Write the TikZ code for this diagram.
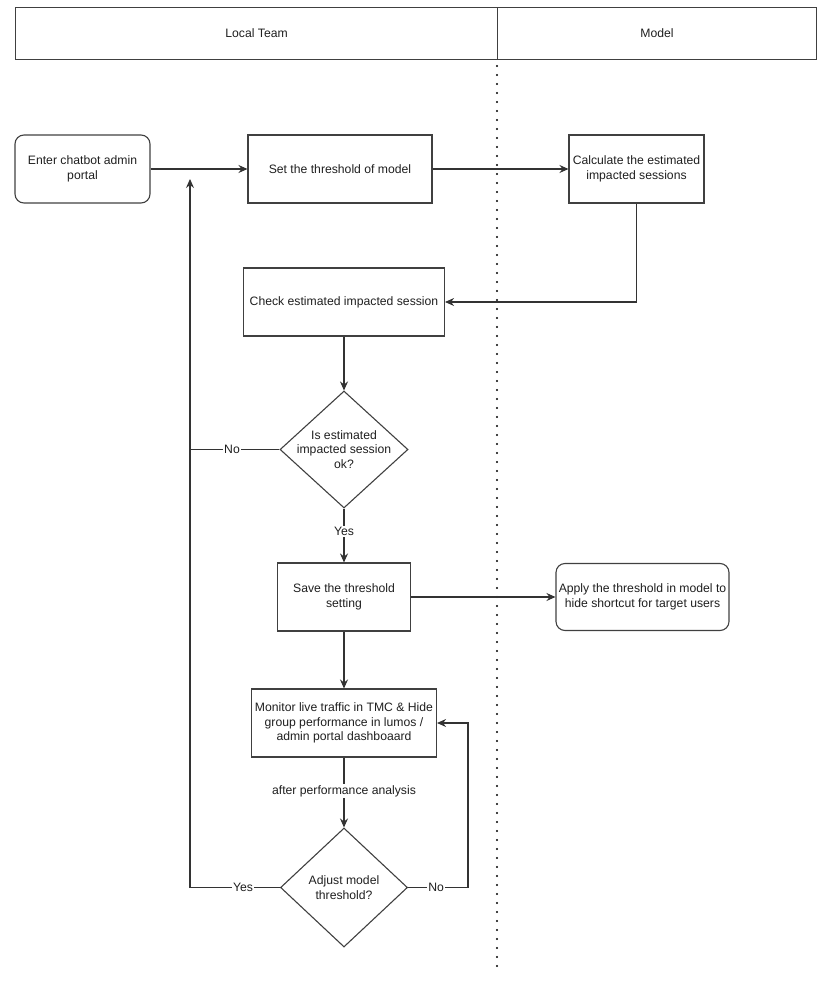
\documentclass[tikz,border=0pt]{standalone}
\usepackage{fontspec}
\setmainfont{Liberation Sans}
\usetikzlibrary{shapes.geometric,arrows.meta,calc}
\tikzset{
  every node/.style={font=\fontsize{12.2}{14.5}\selectfont, text=black!88},
  box/.style={draw=black!75, line width=1.1pt, align=center, inner sep=1pt},
  rbox/.style={box, rounded corners=9pt},
  decision/.style={draw=black!75, line width=1.1pt, diamond, inner sep=0pt},
  conn/.style={draw=black!80, line width=1.1pt},
  arr/.style={conn, -{Stealth[length=9pt,width=8pt,inset=3pt]}},
  lbl/.style={fill=white, inner sep=1pt},
  lane/.style={draw=black!75, line width=1.1pt},
  dots/.style={draw=black, line width=2.2pt, line cap=round, dash pattern=on 0pt off 9pt}
}
\begin{document}
\begin{tikzpicture}[x=1pt,y=-1pt]
\useasboundingbox (0,0) rectangle (830,984);
% header
\node[lane, minimum width=482pt, minimum height=52pt, anchor=north west] (hlocal) at (15,7) {Local Team};
\node[lane, minimum width=319pt, minimum height=52pt, anchor=north west] (hmodel) at (497,7) {Model};
\coordinate (dtop) at (497,66);
\coordinate (dbot) at (497,968);
\draw[dots] (dtop) -- (dbot);

% nodes
\node[rbox, minimum width=135pt, minimum height=68pt] (enter) at (82.5,169) {Enter chatbot admin\\portal};
\node[box, minimum width=184pt, minimum height=68pt] (setth) at (340,169) {Set the threshold of model};
\node[box, minimum width=135pt, minimum height=68pt] (calc) at (636.5,169) {Calculate the estimated\\impacted sessions};
\node[box, minimum width=201pt, minimum height=68pt] (check) at (344,302) {Check estimated impacted session};
\node[decision, minimum width=128pt, minimum height=117pt] (dec1) at (344,449.5) {};
\node[align=center] (dec1t) at (dec1) {Is estimated\\impacted session\\ok?};
\node[box, minimum width=133pt, minimum height=68pt] (save) at (344,597) {Save the threshold\\setting};
\node[rbox, minimum width=173pt, minimum height=67pt] (apply) at (642.5,597) {Apply the threshold in model to\\hide shortcut for target users};
\node[box, minimum width=185pt, minimum height=68pt] (monitor) at (344,723) {Monitor live traffic in TMC \& Hide\\group performance in lumos /\\admin portal dashboaard};
\node[decision, minimum width=127pt, minimum height=119pt] (dec2) at (344,887.5) {};
\node[align=center] (dec2t) at (dec2) {Adjust model\\threshold?};

\coordinate (looptop) at (190,179);
\coordinate (loopbot) at (190,887.5);
\coordinate (nor) at (468,887.5);
\coordinate (nortop) at (468,723);

% connectors
\draw[arr] (enter.east) -- (setth.west);
\draw[arr] (setth.east) -- (calc.west);
\draw[arr] (calc.south) |- (check.east);
\draw[arr] (check.south) -- (dec1.north);
\draw[conn] (dec1.west) -- node[lbl, pos=0.53] {No} (dec1.west -| loopbot);
\draw[arr] (dec1.south) -- node[lbl, pos=0.43] {Yes} (save.north);
\draw[arr] (save.east) -- (apply.west);
\draw[arr] (save.south) -- (monitor.north);
\draw[arr] (monitor.south) -- node[lbl, pos=0.48] {after performance analysis} (dec2.north);
\draw[arr] (dec2.west) -- node[lbl, pos=0.41] {Yes} (loopbot) -- (looptop);
\draw[arr] (dec2.east) -- node[lbl, pos=0.47] {No} (nor) -- (nortop) -- (monitor.east);
\end{tikzpicture}
\end{document}
